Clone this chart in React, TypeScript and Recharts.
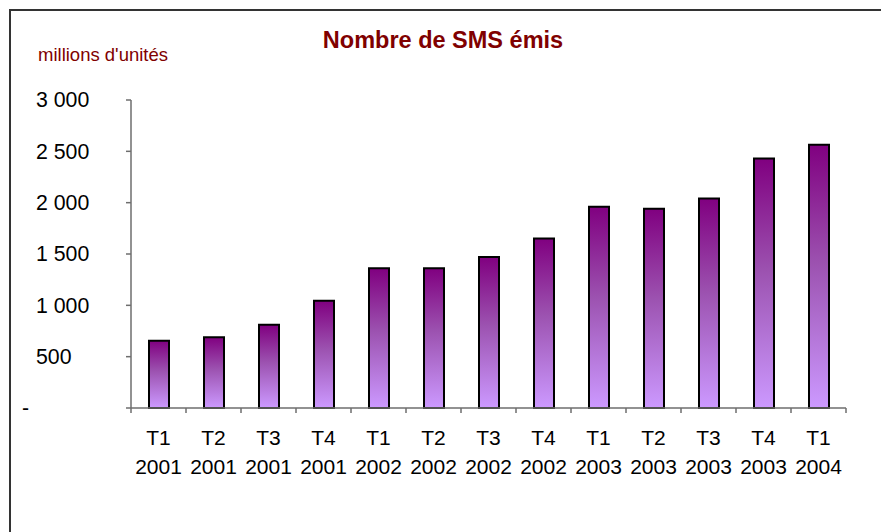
import { Bar, BarChart, XAxis, YAxis } from 'recharts'

// valeurs (millions d'unités)
const quarters = ['T1', 'T2', 'T3', 'T4', 'T1', 'T2', 'T3', 'T4', 'T1', 'T2', 'T3', 'T4', 'T1']
const years = ['2001', '2001', '2001', '2001', '2002', '2002', '2002', '2002', '2003', '2003', '2003', '2003', '2004']
const smsValues = [655, 690, 810, 1045, 1360, 1360, 1470, 1650, 1960, 1940, 2040, 2430, 2565]
const yTicks = [0, 500, 1000, 1500, 2000, 2500, 3000]

const data = quarters.map((q, i) => ({ name: `${q} ${years[i]}`, q, year: years[i], sms: smsValues[i] }))

const FONT = '"Liberation Sans", Arial, sans-serif'
const AXIS = '#6e6e6e'

const formatY = (v: number) => (v === 0 ? '-' : v.toLocaleString('fr-FR').replace(/\s/g, ' '))

// eslint-disable-next-line @typescript-eslint/no-explicit-any
function YTick({ y, payload }: any) {
  const zero = payload.value === 0
  return (
    <text x={zero ? 22 : 36} y={y} dy='0.35em' textAnchor='start' fontSize={21.3} fontFamily={FONT} fill='#000'>
      {formatY(payload.value)}
    </text>
  )
}

// eslint-disable-next-line @typescript-eslint/no-explicit-any
function XTick({ x, y, payload, index }: any) {
  const half = payload.offset || 27.5
  const i = payload.index ?? index
  return (
    <g>
      <line x1={x - half} x2={x - half} y1={y} y2={y + 5} stroke={AXIS} strokeWidth={1.5} />
      {i === quarters.length - 1 && <line x1={x + half} x2={x + half} y1={y} y2={y + 5} stroke={AXIS} strokeWidth={1.5} />}
      <text x={x} y={y + 37} textAnchor='middle' fontSize={21} fontFamily={FONT} fill='#000'>
        {quarters[i]}
      </text>
      <text x={x} y={y + 66} textAnchor='middle' fontSize={21} fontFamily={FONT} fill='#000'>
        {years[i]}
      </text>
    </g>
  )
}

export default function App() {
  return (
    <div style={{ position: 'absolute', left: 0, top: 0, width: 881, height: 532, overflow: 'hidden', background: '#fff' }}>
      {/* cadre du graphique, coupé à droite et en bas */}
      <div style={{ position: 'absolute', left: 9, top: 9, width: 1000, height: 1000, border: '2px solid #333' }} />
      <BarChart
        width={881}
        height={532}
        data={data}
        margin={{ top: 100, right: 35, bottom: 0, left: 0 }}
        style={{ position: 'absolute', left: 0, top: 0 }}
      >
        <defs>
          <linearGradient id='smsGrad' x1='0' y1='0' x2='0' y2='1'>
            <stop offset='0%' stopColor='#800080' />
            <stop offset='45%' stopColor='#9C52B0' />
            <stop offset='100%' stopColor='#CC99FF' />
          </linearGradient>
        </defs>
        <XAxis
          dataKey='name'
          height={124}
          interval={0}
          tickLine={false}
          tickSize={0}
          tickMargin={0}
          axisLine={{ stroke: AXIS, strokeWidth: 1.5 }}
          tick={<XTick />}
        />
        <YAxis
          width={131}
          domain={[0, 3000]}
          ticks={yTicks}
          interval={0}
          tickSize={5}
          tickLine={{ stroke: AXIS, strokeWidth: 1.5 }}
          axisLine={{ stroke: AXIS, strokeWidth: 1.5 }}
          tick={<YTick />}
        />
        <Bar dataKey='sms' barSize={20} fill='url(#smsGrad)' stroke='#000' strokeWidth={2} isAnimationActive={false} />
      </BarChart>
      <svg width={881} height={532} style={{ position: 'absolute', left: 0, top: 0, pointerEvents: 'none' }}>
        <text x={443} y={47.5} textAnchor='middle' fontSize={23.5} fontWeight='bold' fontFamily={FONT} fill='#800000'>
          Nombre de SMS émis
        </text>
        <text x={38} y={61} fontSize={18.5} fontFamily={FONT} fill='#800000'>
          millions d'unités
        </text>
      </svg>
    </div>
  )
}
